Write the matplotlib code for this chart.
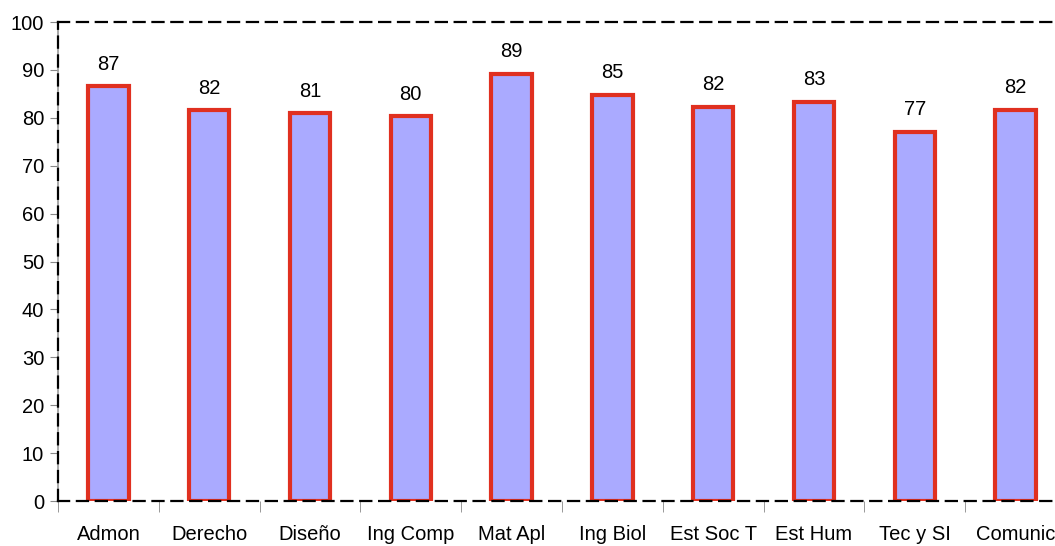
import matplotlib.pyplot as plt
import numpy as np

plt.rcParams['font.family'] = ['Liberation Sans', 'DejaVu Sans']

# data
carreras = ["Admon", "Derecho", "Diseño", "Ing Comp", "Mat Apl",
            "Ing Biol", "Est Soc T", "Est Hum", "Tec y SI", "Comunic"]
valores = [86.6, 81.6, 81.0, 80.3, 89.2, 84.8, 82.3, 83.4, 77.1, 81.7]
etiquetas = ["87", "82", "81", "80", "89", "85", "82", "83", "77", "82"]

fig = plt.figure(figsize=(10.55, 5.46), dpi=100)
ax = fig.add_axes([0.055, 0.0824, 0.9554, 0.8773])

x = np.arange(len(carreras))
bars = ax.bar(x, valores, width=0.4, color="#AAAAFF", edgecolor="#E03020",
              linewidth=3, zorder=2)

for b, lab in zip(bars, etiquetas):
    ax.annotate(lab, (b.get_x() + b.get_width() / 2, b.get_height()),
                xytext=(0, 9), textcoords="offset points",
                ha="center", va="bottom", fontsize=14.5)

ax.set_xlim(-0.5, len(carreras) - 0.5)
ax.set_ylim(0, 100)
ax.set_yticks(range(0, 101, 10))
ax.tick_params(axis="y", labelsize=14.5, length=6, color="#888888", pad=4)

ax.set_xticks(x)
ax.set_xticklabels(carreras, fontsize=14.5)
ax.tick_params(axis="x", which="major", length=0, pad=17)
ax.set_xticks(np.arange(-0.5, len(carreras)), minor=True)
ax.tick_params(axis="x", which="minor", length=8, color="#888888")

# gray solid line under dashed left border
ax.axvline(-0.5, color="#999999", lw=1.2, zorder=5, clip_on=False)
for s in ["left", "top", "bottom", "right"]:
    ax.spines[s].set_linestyle((0, (5, 3.5)))
    ax.spines[s].set_linewidth(1.6)
    ax.spines[s].set_color("black")
    ax.spines[s].set_zorder(6)

plt.savefig("out.png", dpi=100)
